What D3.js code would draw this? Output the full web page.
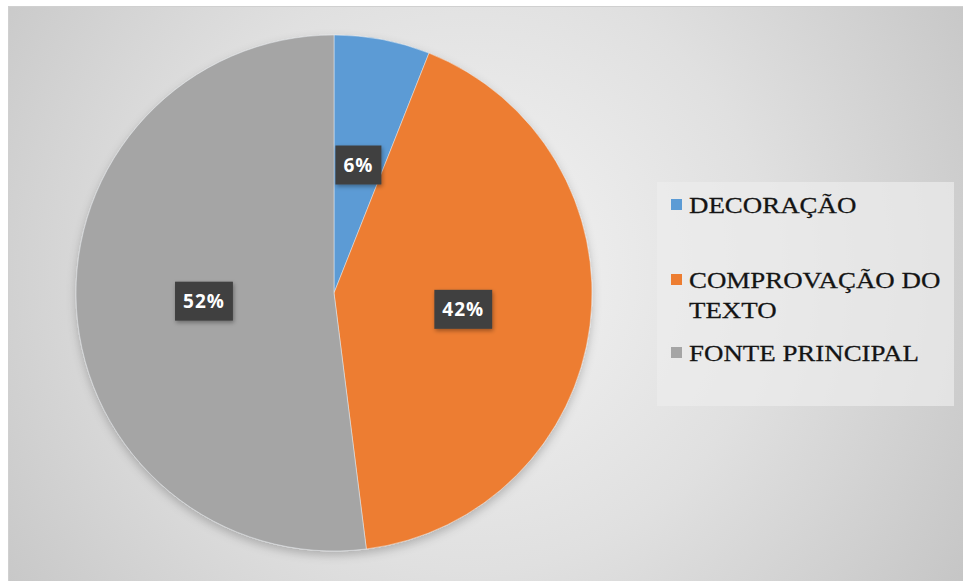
<!DOCTYPE html>
<html>
<head>
<meta charset="utf-8">
<script src="https://cdn.jsdelivr.net/npm/d3@7"></script>
<style>
  html, body { margin: 0; padding: 0; background: #fff; }
  svg { display: block; }
</style>
</head>
<body>
<svg id="chart" width="963" height="581"></svg>
<script>
// Share of each category (percent)
const categories = ["DECORAÇÃO", "COMPROVAÇÃO DO TEXTO", "FONTE PRINCIPAL"];
const values = [6, 42, 52];
const legendLines = [["DECORAÇÃO"], ["COMPROVAÇÃO DO", "TEXTO"], ["FONTE PRINCIPAL"]];
const colors = ["#5b9bd5", "#ed7d31", "#a5a5a5"];

const svg = d3.select("#chart");
const W = 963, H = 581;

const defs = svg.append("defs");
const bg = defs.append("radialGradient")
  .attr("id", "bgGrad")
  .attr("gradientUnits", "userSpaceOnUse")
  .attr("cx", 470).attr("cy", 270).attr("r", 600);
bg.append("stop").attr("offset", "0%").attr("stop-color", "#f4f4f4");
bg.append("stop").attr("offset", "50%").attr("stop-color", "#e0e0e0");
bg.append("stop").attr("offset", "100%").attr("stop-color", "#c4c4c4");

const shadow = defs.append("filter").attr("id", "pieShadow")
  .attr("x", "-20%").attr("y", "-20%").attr("width", "140%").attr("height", "140%");
shadow.append("feDropShadow")
  .attr("dx", 0).attr("dy", 4).attr("stdDeviation", 5)
  .attr("flood-color", "#000").attr("flood-opacity", 0.22);

const boxShadow = defs.append("filter").attr("id", "boxShadow")
  .attr("x", "-30%").attr("y", "-30%").attr("width", "160%").attr("height", "160%");
boxShadow.append("feDropShadow")
  .attr("dx", 1).attr("dy", 2).attr("stdDeviation", 2)
  .attr("flood-color", "#000").attr("flood-opacity", 0.35);

// Chart area
svg.append("rect")
  .attr("x", 8.5).attr("y", 6.5)
  .attr("width", W).attr("height", H)
  .attr("fill", "url(#bgGrad)")
  .attr("stroke", "#d0d0d0").attr("stroke-width", 1);

// Pie
const cx = 334, cy = 293, R = 258;
const pie = d3.pie().sort(null).value(d => d)(values);
const arc = d3.arc().innerRadius(0).outerRadius(R);
const labelArc = d3.arc().innerRadius(R * 0.505).outerRadius(R * 0.505);

const g = svg.append("g").attr("transform", `translate(${cx},${cy})`);
g.append("g").attr("filter", "url(#pieShadow)")
  .selectAll("path").data(pie).join("path")
  .attr("d", arc)
  .attr("fill", (d, i) => colors[i])
  .attr("stroke", "rgba(235,240,245,0.6)")
  .attr("stroke-width", 0.8);

// Data labels
const fmt = d => d + "%";
const lbl = g.selectAll("g.lbl").data(pie).join("g")
  .attr("class", "lbl")
  .attr("transform", d => { const c = labelArc.centroid(d); return `translate(${c[0]},${c[1]})`; });
lbl.each(function(d) {
  const sel = d3.select(this);
  const rect = sel.append("rect").attr("fill", "#404040").attr("filter", "url(#boxShadow)");
  const t = sel.append("text")
    .attr("text-anchor", "middle")
    .attr("dy", "0.36em")
    .attr("fill", "#ffffff")
    .attr("font-family", "'Open Sans', sans-serif")
    .attr("font-weight", 700)
    .attr("font-size", 19)
    .attr("letter-spacing", 1)
    .text(fmt(d.data));
  const bb = t.node().getBBox();
  const w = bb.width + 16, h = 39;
  rect.attr("x", -w / 2).attr("y", -h / 2).attr("width", w).attr("height", h);
});

// Legend
const legend = svg.append("g");
legend.append("rect")
  .attr("x", 657).attr("y", 182)
  .attr("width", 297).attr("height", 224)
  .attr("fill", "#ededed").attr("fill-opacity", 0.7);

const legendBaselines = [213, 288, 361];
const textX = 689, stretch = 1.17;
const item = legend.selectAll("g.item").data(categories).join("g").attr("class", "item");
item.append("rect")
  .attr("x", 671)
  .attr("y", (d, i) => legendBaselines[i] - 14)
  .attr("width", 11).attr("height", 11)
  .attr("fill", (d, i) => colors[i]);
item.append("text")
  .attr("transform", (d, i) => `translate(${textX},${legendBaselines[i]}) scale(${stretch},1)`)
  .attr("font-family", "'Liberation Serif', 'Times New Roman', serif")
  .attr("font-size", 23)
  .attr("fill", "#141414")
  .attr("stroke", "#141414").attr("stroke-width", 0.25)
  .each(function(d, i) {
    d3.select(this).selectAll("tspan").data(legendLines[i]).join("tspan")
      .attr("x", 0)
      .attr("dy", (s, j) => j === 0 ? 0 : 30)
      .text(s => s);
  });
</script>
</body>
</html>
